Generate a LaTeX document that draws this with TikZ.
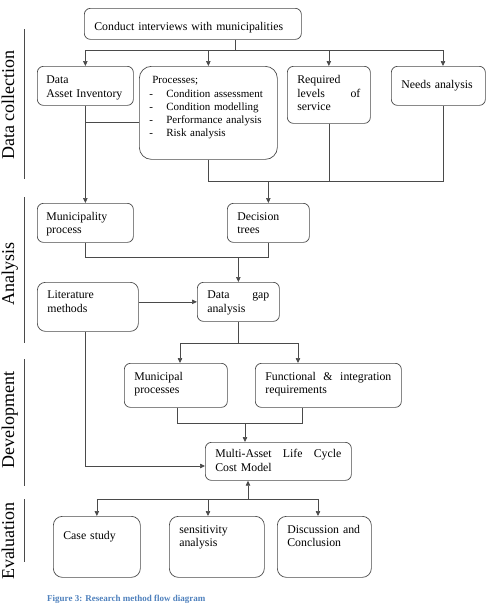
\documentclass[tikz,border=0pt]{standalone}
\usepackage{fontspec}
\setmainfont{Liberation Serif}
\definecolor{RMGray}{HTML}{4A4A4A}
\definecolor{RMBlue}{HTML}{4F81BD}
\usetikzlibrary{positioning,arrows.meta,calc}

\begin{document}
\begin{tikzpicture}[x=1pt, y=-1pt, font=\fontsize{11.8}{13.2}\selectfont,
    flowbox/.style={draw=RMGray, line width=0.7pt, rounded corners=6pt, anchor=north west, align=left, inner xsep=10pt, inner ysep=4pt},
    textspan/.style 2 args={text height=#1, text depth=#2},
    flowline/.style={draw=RMGray, line width=0.7pt},
    flowarrow/.style={flowline, -{Triangle[length=5pt, width=4.5pt]}},
    sidelabel/.style={rotate=90, anchor=base, inner sep=0pt, font=\fontsize{18}{20}\selectfont},
    phaserule/.style={draw=RMGray, line width=0.6pt}]
    \useasboundingbox (0,0) rectangle (487,603);

    \node[sidelabel] (lbldata) at (14,105) {Data collection};
    \node[sidelabel] (lblanalysis) at (14,273.5) {Analysis};
    \node[sidelabel] (lbldev) at (14,420) {Development};
    \node[sidelabel] (lbleval) at (14,541) {Evaluation};
    \draw[phaserule] (24,29) -- (24,179);
    \draw[phaserule] (24,197) -- (24,343);
    \draw[phaserule] (24,359) -- (24,486);
    \draw[phaserule] (24,499) -- (24,562);

    \node[flowbox, text width=197pt, textspan={18.2pt}{4.8pt}] (conduct) at (84,8) {Conduct interviews with municipalities};
    \node[flowbox, text width=78pt, inner xsep=9pt, textspan={13.5pt}{17.5pt}] (dai) at (37,66) {Data\\Asset Inventory};
    \node[flowbox, text width=118pt, rounded corners=12pt, font=\fontsize{11}{13.2}\selectfont, textspan={13.5pt}{71.5pt}] (proc) at (139,66)
        {\hspace{3pt}Processes;\\
         \makebox[17pt][l]{-}Condition assessment\\
         \makebox[17pt][l]{-}Condition modelling\\
         \makebox[17pt][l]{-}Performance analysis\\
         \makebox[17pt][l]{-}Risk analysis};
    \node[flowbox, text width=63pt, textspan={13.5pt}{35.5pt}] (req) at (287,66) {Required\\levels\hfill of\\service};
    \node[flowbox, text width=74pt, textspan={18.5pt}{12.5pt}] (needs) at (391,66) {Needs analysis};
    \node[flowbox, text width=78pt, inner xsep=9pt, textspan={13.2pt}{17.8pt}] (mun) at (37,203) {Municipality\\process};
    \node[flowbox, text width=62pt, textspan={13.2pt}{17.8pt}] (dec) at (227,203) {Decision\\trees};
    \node[flowbox, text width=81pt, rounded corners=8pt, textspan={12.5pt}{28.5pt}] (lit) at (37,282) {Literature\\methods};
    \node[flowbox, text width=62pt, textspan={12.5pt}{18.5pt}] (gap) at (197,282) {Data\hfill gap\\analysis};
    \node[flowbox, text width=83pt, textspan={13.2pt}{22.8pt}] (munp) at (124,363) {Municipal\\processes};
    \node[flowbox, text width=126pt, textspan={13.2pt}{22.8pt}] (func) at (255,363) {Functional\hfill\&\hfill integration\\requirements};
    \node[flowbox, text width=126pt, textspan={11.5pt}{18.5pt}] (malcc) at (205,442) {Multi-Asset\hfill Life\hfill Cycle\\Cost Model};
    \node[flowbox, text width=67pt, rounded corners=9pt, textspan={19.2pt}{33.8pt}] (case) at (53,516) {Case study};
    \node[flowbox, text width=75pt, rounded corners=9pt, textspan={12.8pt}{40.2pt}] (sens) at (169,516) {sensitivity\\analysis};
    \node[flowbox, text width=74pt, rounded corners=9pt, textspan={12.8pt}{40.2pt}] (disc) at (277,516) {Discussion and\\Conclusion};

    \node[anchor=base west, inner sep=0pt, text=RMBlue, font=\bfseries\fontsize{9}{10}\selectfont] (caption) at (47,601) {Figure 3: Research method flow diagram};

    \coordinate (j1) at (235,50);
    \coordinate (j1r) at (443,50);
    \draw[flowline] (j1 |- conduct.south) -- (j1);
    \draw[flowline] (dai.north |- j1) -- (j1r);
    \draw[flowarrow] (dai.north |- j1) -- (dai.north);
    \draw[flowarrow] (proc.north |- j1) -- (proc.north);
    \draw[flowarrow] (req.north |- j1) -- (req.north);
    \draw[flowarrow] (j1r) -- (j1r |- needs.north);

    \coordinate (j2) at ($(dai.south)+(0,17)$);
    \draw[flowarrow] (dai.south) -- (mun.north);
    \draw[flowline] (j2) -- (j2 -| proc.west);

    \coordinate (j3) at (dec.north |- 0,181);
    \coordinate (j3r) at (j1r |- j3);
    \draw[flowline] (proc.south) |- (j3r) -- (j3r |- needs.south);
    \draw[flowline] (req.south) -- (req.south |- j3);
    \draw[flowarrow] (j3) -- (dec.north);

    \coordinate (j4) at (gap.north |- 0,257);
    \draw[flowline] (mun.south) |- (dec.south |- j4) -- (dec.south);
    \draw[flowarrow] (j4) -- (gap.north);
    \draw[flowarrow] (lit.east |- gap.west) -- (gap.west);

    \coordinate (j5) at (gap.south |- 0,343);
    \coordinate (j5l) at (180,343);
    \coordinate (j5r) at (298,343);
    \draw[flowline] (gap.south) -- (j5);
    \draw[flowline] (j5l) -- (j5r);
    \draw[flowarrow] (j5l) -- (j5l |- munp.north);
    \draw[flowarrow] (j5r) -- (j5r |- func.north);

    \coordinate (j6) at (245,423);
    \coordinate (j6l) at (177,423);
    \coordinate (j6r) at (302,423);
    \draw[flowline] (j6l |- munp.south) -- (j6l) -- (j6r) -- (j6r |- func.south);
    \draw[flowarrow] (j6) -- (j6 |- malcc.north);

    \coordinate (j7) at (malcc.west |- 0,466);
    \draw[flowarrow] (lit.south -| mun.south) |- (j7);

    \coordinate (j8) at (248,499);
    \coordinate (j8m) at (208,499);
    \coordinate (j8r) at (318,499);
    \draw[flowarrow] (j8) -- (j8 |- malcc.south);
    \draw[flowline] (case.north |- j8) -- (j8r);
    \draw[flowarrow] (case.north |- j8) -- (case.north);
    \draw[flowarrow] (j8m) -- (j8m |- sens.north);
    \draw[flowarrow] (j8r) -- (j8r |- disc.north);
\end{tikzpicture}
\end{document}
